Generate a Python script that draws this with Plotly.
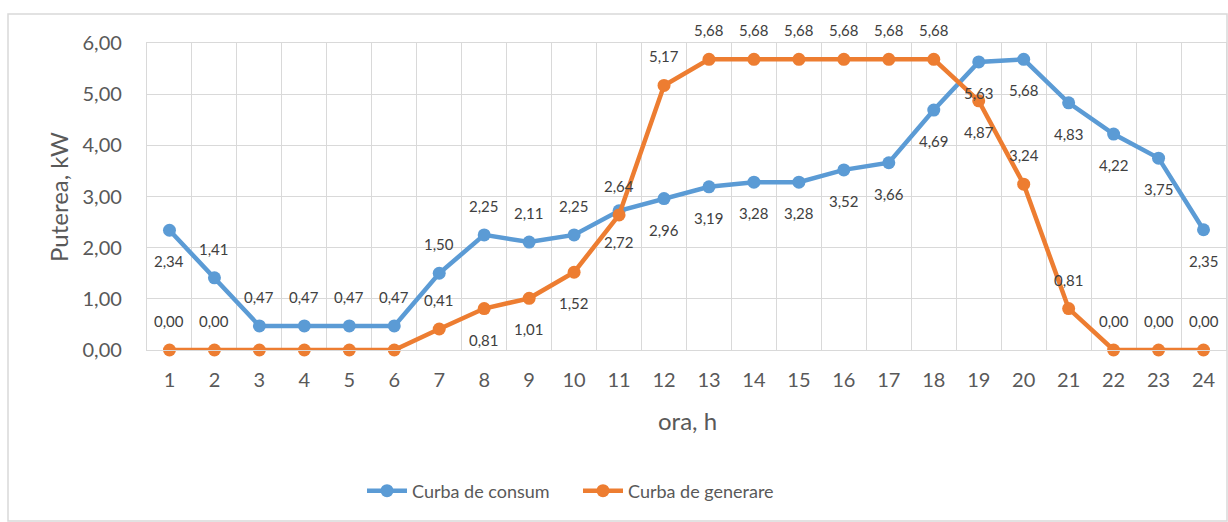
import plotly.graph_objects as go

# Hourly power profile (kW)
hours = list(range(1, 25))
consum = [2.34, 1.41, 0.47, 0.47, 0.47, 0.47, 1.50, 2.25, 2.11, 2.25, 2.72, 2.96,
          3.19, 3.28, 3.28, 3.52, 3.66, 4.69, 5.63, 5.68, 4.83, 4.22, 3.75, 2.35]
generare = [0.00, 0.00, 0.00, 0.00, 0.00, 0.00, 0.41, 0.81, 1.01, 1.52, 2.64, 5.17,
            5.68, 5.68, 5.68, 5.68, 5.68, 5.68, 4.87, 3.24, 0.81, 0.00, 0.00, 0.00]
y_ticks = [0, 1, 2, 3, 4, 5, 6]

series_names = ["Curba de consum", "Curba de generare"]

# Data label placement: "a" = above the point, "b" = below, "" = hidden
consum_lbl = ["b", "a", "a", "a", "a", "a", "a", "a", "a", "a", "b", "b",
              "b", "b", "b", "b", "b", "b", "b", "b", "b", "b", "b", "b"]
generare_lbl = ["a", "a", "", "", "", "", "a", "b", "b", "b", "a", "a",
                "a", "a", "a", "a", "a", "a", "b", "a", "a", "a", "a", "a"]

BLUE = "#5B9BD5"
ORANGE = "#ED7D31"
GRID = "#D9D9D9"
TXT = "#595959"
LBL = "#404040"
FONT = "Lato"

W, H = 1228, 522
ML, MR, MT, MB = 147, 2, 43, 172
PW, PH = W - ML - MR, H - MT - MB


def px_x(x):
    return (x - ML) / PW


def px_y(y):
    return (H - MB - y) / PH


def fmt(v):
    return f"{v:.2f}".replace(".", ",")


fig = go.Figure()
for name, vals, col in [(series_names[0], consum, BLUE), (series_names[1], generare, ORANGE)]:
    fig.add_trace(go.Scatter(
        x=hours, y=vals, name=name, mode="lines+markers",
        line=dict(color=col, width=4.5),
        marker=dict(color=col, size=13),
        cliponaxis=False,
    ))

annotations = []
for vals, places in [(consum, consum_lbl), (generare, generare_lbl)]:
    for h, v, p in zip(hours, vals, places):
        if not p:
            continue
        annotations.append(dict(
            x=h, y=v, xref="x", yref="y", text=fmt(v), showarrow=False,
            yshift=29 if p == "a" else -31,
            font=dict(family=FONT, size=15, color=LBL),
        ))

# Axis titles
annotations.append(dict(
    x=px_x(687), y=px_y(420), xref="paper", yref="paper", text="ora, h",
    showarrow=False, font=dict(family=FONT, size=24, color=TXT),
    xanchor="center", yanchor="middle",
))
annotations.append(dict(
    x=px_x(58), y=px_y(197), xref="paper", yref="paper", text="Puterea, kW",
    showarrow=False, textangle=-90, font=dict(family=FONT, size=24, color=TXT),
    xanchor="center", yanchor="middle",
))

fig.update_layout(
    width=W, height=H,
    margin=dict(l=ML, r=MR, t=MT, b=MB),
    paper_bgcolor="white", plot_bgcolor="white",
    separators=", ",
    font=dict(family=FONT, color=TXT),
    showlegend=True,
    legend=dict(
        orientation="h", x=px_x(362), xanchor="left", y=px_y(491), yanchor="middle",
        font=dict(family=FONT, size=18, color=TXT),
        itemwidth=40, tracegroupgap=0, entrywidth=161,
    ),
    annotations=annotations,
    shapes=[dict(
        type="rect", xref="paper", yref="paper",
        x0=px_x(8), x1=px_x(1227), y0=px_y(521), y1=px_y(14),
        line=dict(color=GRID, width=1.5), fillcolor="rgba(0,0,0,0)", layer="below",
    )],
)

fig.update_xaxes(
    range=[0.5, 24.5], tickmode="array", tickvals=hours, ticktext=[str(h) for h in hours],
    showgrid=False, zeroline=False,
    showline=True, linecolor=GRID, linewidth=1.3, mirror=True,
    ticks="", ticklabelstandoff=12,
    tickfont=dict(family=FONT, size=20, color=TXT),
    minor=dict(tickmode="linear", tick0=0.5, dtick=1, showgrid=True,
               gridcolor=GRID, gridwidth=1.3),
)
fig.update_yaxes(
    range=[0, 6], tickmode="array", tickvals=y_ticks, tickformat=".2f",
    showgrid=True, gridcolor=GRID, gridwidth=1.3, zeroline=False,
    showline=True, linecolor=GRID, linewidth=1.3, mirror=True,
    ticks="", ticklabelstandoff=20,
    tickfont=dict(family=FONT, size=20, color=TXT),
)

fig.write_html("out.html")
